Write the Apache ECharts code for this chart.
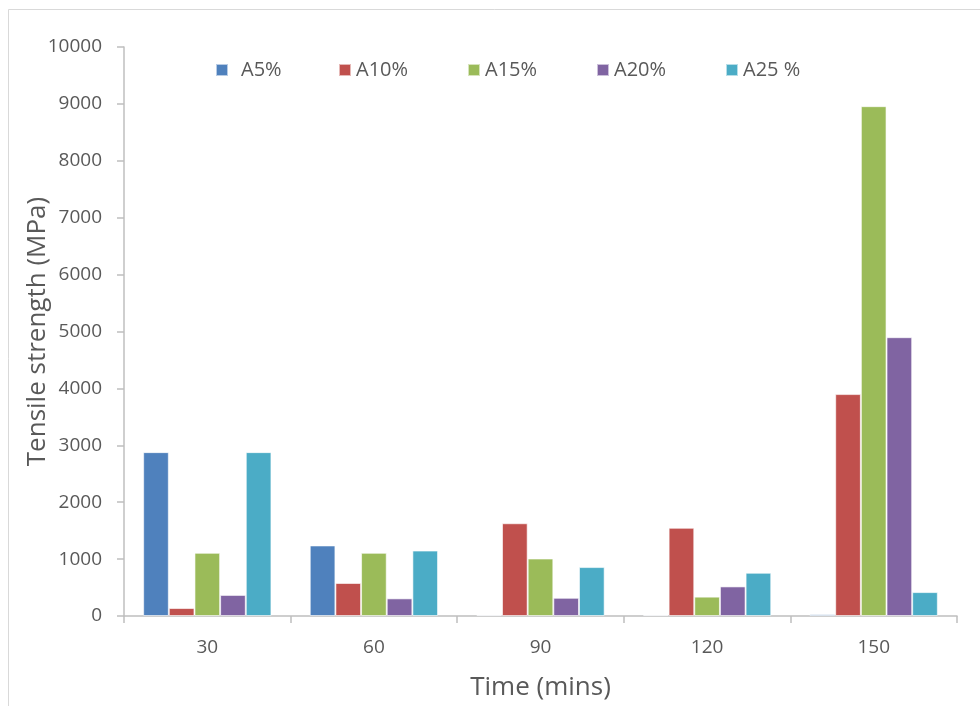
<!DOCTYPE html>
<html>
<head>
<meta charset="utf-8">
<script src="https://cdn.jsdelivr.net/npm/echarts@6/dist/echarts.min.js"></script>
<style>html,body{margin:0;padding:0;background:#fff;}#c{width:980px;height:706px;}</style>
</head>
<body>
<div id="c"></div>
<script>
const categories = ['30', '60', '90', '120', '150'];
const seriesNames = ['A5%', 'A10%', 'A15%', 'A20%', 'A25 %'];
const A5 = [2880, 1240, 20, 20, 30];
const A10 = [140, 580, 1630, 1550, 3900];
const A15 = [1110, 1110, 1010, 340, 8960];
const A20 = [370, 310, 320, 520, 4900];
const A25 = [2880, 1150, 860, 760, 420];
const seriesValues = [A5, A10, A15, A20, A25];
const colors = ['#4F81BD', '#C0504D', '#9BBB59', '#8064A2', '#4BACC6'];
const legendLeft = [210, 333, 462, 591, 720];

const font = "'Open Sans', 'Liberation Sans', sans-serif";
const chart = echarts.init(document.getElementById('c'));
chart.setOption({
  animation: false,
  backgroundColor: '#fff',
  color: colors,
  graphic: [{
    type: 'rect', shape: {x: 8.5, y: 9.5, width: 1000, height: 1000},
    style: {fill: 'none', stroke: '#d9d9d9', lineWidth: 1}, silent: true
  }],
  legend: seriesNames.map((n, i) => ({
    data: [n], left: legendLeft[i], top: 55, itemWidth: 12, itemHeight: 12,
    icon: 'rect', itemGap: 0,
    textStyle: {fontFamily: font, fontSize: 20, color: '#595959', padding: [0, 0, 0, i === 0 ? 8 : 0]}
  })),
  grid: {left: 124, right: 23, top: 47, bottom: 90, containLabel: false, outerBoundsMode: 'none'},
  xAxis: {
    type: 'category', data: categories,
    name: 'Time (mins)', nameLocation: 'middle', nameGap: 59, nameMoveOverlap: false,
    nameTextStyle: {fontFamily: font, fontSize: 26, color: '#595959'},
    axisLine: {lineStyle: {color: '#bfbfbf', width: 1.5}},
    axisTick: {show: true, alignWithLabel: false, length: 7, lineStyle: {color: '#bfbfbf', width: 1.5}},
    axisLabel: {fontFamily: font, fontSize: 19, color: '#595959', margin: 22}
  },
  yAxis: {
    type: 'value', min: 0, max: 10000, interval: 1000,
    name: 'Tensile strength (MPa)', nameLocation: 'middle', nameGap: 73, nameMoveOverlap: false,
    nameTextStyle: {fontFamily: font, fontSize: 26, color: '#595959'},
    axisLine: {show: true, lineStyle: {color: '#bfbfbf', width: 1.5}},
    axisTick: {show: true, length: 7, lineStyle: {color: '#bfbfbf', width: 1.5}},
    splitLine: {show: false},
    axisLabel: {fontFamily: font, fontSize: 19, color: '#595959', margin: 22, formatter: v => String(v)}
  },
  series: seriesNames.map((n, i) => ({
    name: n, type: 'bar', data: seriesValues[i],
    barGap: '0%', barCategoryGap: '23%',
    itemStyle: {color: colors[i], borderColor: 'rgba(255,255,255,0.6)', borderWidth: 1}
  }))
});
</script>
</body>
</html>
